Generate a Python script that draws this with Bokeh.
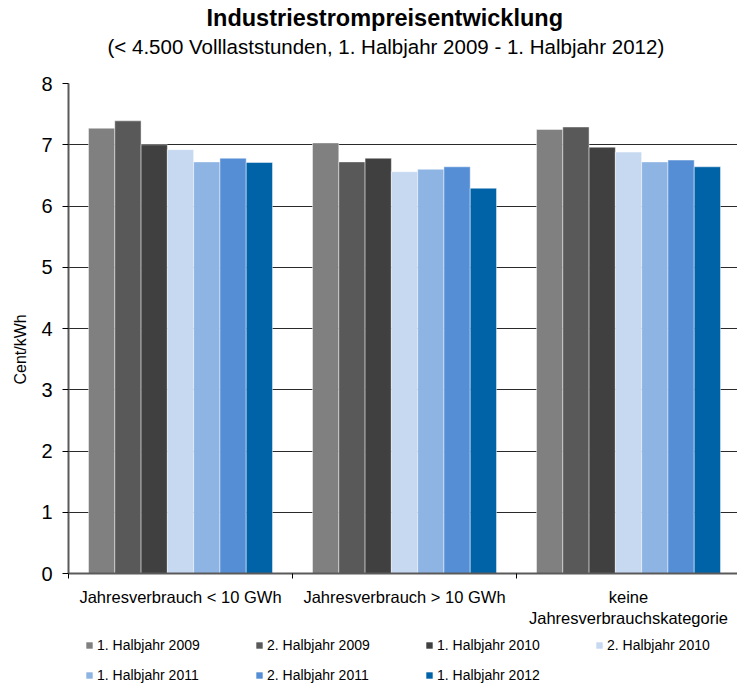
from bokeh.plotting import figure
from bokeh.layouts import column
from bokeh.models import Range1d, FixedTicker, Legend, LegendItem, Title
from bokeh.embed import file_html
from bokeh.resources import INLINE

# ---------------- data ----------------
categories = ["Jahresverbrauch < 10 GWh",
              "Jahresverbrauch > 10 GWh",
              "keine\nJahresverbrauchskategorie"]
series_names = ["1. Halbjahr 2009", "2. Halbjahr 2009", "1. Halbjahr 2010",
                "2. Halbjahr 2010", "1. Halbjahr 2011", "2. Halbjahr 2011",
                "1. Halbjahr 2012"]
h1_2009 = [7.27, 7.03, 7.25]
h2_2009 = [7.39, 6.72, 7.29]
h1_2010 = [7.00, 6.78, 6.96]
h2_2010 = [6.92, 6.56, 6.88]
h1_2011 = [6.72, 6.60, 6.72]
h2_2011 = [6.78, 6.64, 6.75]
h1_2012 = [6.71, 6.29, 6.64]
series_values = [h1_2009, h2_2009, h1_2010, h2_2010, h1_2011, h2_2011, h1_2012]
colors = ["#808080", "#595959", "#404040", "#C6D9F1", "#8EB4E3", "#558ED5", "#0063A8"]
y_ticks = [0, 1, 2, 3, 4, 5, 6, 7, 8]
title_text = "Industriestrompreisentwicklung"
subtitle_text = "(< 4.500 Volllaststunden,  1. Halbjahr 2009 - 1. Halbjahr 2012)"
y_label = "Cent/kWh"

# ---------------- layout ----------------
W = 737
H_MAIN, H_LEG = 630, 56
BL, BT, BB = 68, 83, 52
frame_w = W - BL
cat_px = 224.0
x_end = frame_w / cat_px
group_frac = 184.0 / 224.0
bar_w = group_frac / len(series_names)

p = figure(width=W, height=H_MAIN, output_backend="svg", toolbar_location=None,
           x_range=Range1d(0, x_end), y_range=Range1d(0, 8),
           min_border_left=BL, min_border_top=BT, min_border_bottom=BB,
           min_border_right=0)
p.outline_line_color = None
p.background_fill_color = "white"
p.border_fill_color = "white"

renderers = []
n = len(series_names)
for i, (name, vals, col) in enumerate(zip(series_names, series_values, colors)):
    xs = [c + 0.5 + (i - (n - 1) / 2) * bar_w for c in range(len(categories))]
    r = p.vbar(x=xs, top=vals, bottom=0, width=bar_w, fill_color=col,
               line_color="white", line_alpha=0.45, line_width=1)
    renderers.append(r)

# grid
p.xgrid.visible = False
p.ygrid.ticker = FixedTicker(ticks=y_ticks[1:-1])
p.ygrid.grid_line_color = "#2a2a2a"
p.ygrid.grid_line_width = 1
p.ygrid.level = "underlay"

# y axis
p.yaxis.ticker = FixedTicker(ticks=y_ticks)
p.yaxis.major_tick_out = 6
p.yaxis.major_tick_in = 0
p.yaxis.minor_tick_out = 0
p.yaxis.minor_tick_in = 0
p.yaxis.major_tick_line_color = "black"
p.yaxis.axis_line_color = "#5a5a5a"
p.yaxis.axis_line_width = 2
p.yaxis.major_label_text_font = "Liberation Sans"
p.yaxis.major_label_text_font_size = "20px"
p.yaxis.major_label_text_color = "black"
p.yaxis.major_label_standoff = 10

# x axis
p.xaxis.ticker = FixedTicker(ticks=[c + 0.5 for c in range(len(categories))],
                             minor_ticks=list(range(len(categories) + 1)))
p.xaxis.major_label_overrides = {c + 0.5: lab for c, lab in enumerate(categories)}
p.xaxis.major_tick_out = 0
p.xaxis.major_tick_in = 0
p.xaxis.minor_tick_out = 5
p.xaxis.minor_tick_in = 0
p.xaxis.minor_tick_line_color = "black"
p.xaxis.axis_line_color = "#5a5a5a"
p.xaxis.axis_line_width = 2
p.xaxis.major_label_text_font = "Liberation Sans"
p.xaxis.major_label_text_font_size = "16.5px"
p.xaxis.major_label_text_color = "black"
p.xaxis.major_label_standoff = 9

# titles: spacer first (closest to plot), then subtitle, then title
p.add_layout(Title(text=" ", text_font_size="1px", standoff=22), "above")
p.add_layout(Title(text=subtitle_text, align="left", offset=107 - BL,
                   text_font="Liberation Sans", text_font_size="20.5px",
                   text_font_style="normal", text_color="black", standoff=2), "above")
p.add_layout(Title(text=title_text, align="left", offset=206 - BL,
                   text_font="Liberation Sans", text_font_size="23.5px",
                   text_font_style="bold", text_color="black", standoff=2), "above")

# y axis label as a left-side title
p.add_layout(Title(text=y_label, align="left", offset=578 - 389,
                   text_font="Liberation Sans", text_font_size="16px",
                   text_font_style="normal", text_color="black", standoff=19), "left")

# legend in its own strip below the chart (frame aligned with the chart frame)
leg = figure(width=W, height=H_LEG, output_backend="svg", toolbar_location=None,
             x_range=Range1d(0, 1), y_range=Range1d(0, 1),
             x_axis_location=None, y_axis_location=None, min_border=0)
leg.outline_line_color = None
leg.grid.visible = False
leg_renderers = [leg.vbar(x=[0], top=[0], bottom=[0], width=0, fill_color=col,
                          line_color=None)
                 for col in colors]
legend = Legend(items=[LegendItem(label=nm, renderers=[r])
                       for nm, r in zip(series_names, leg_renderers)],
                ncols=4, location=(17, -4), orientation="horizontal",
                label_width=158, label_height=30, glyph_width=8, glyph_height=8,
                spacing=0, padding=0, margin=0, label_standoff=4,
                border_line_color=None, background_fill_alpha=0,
                label_text_font="Liberation Sans", label_text_font_size="14px",
                label_text_color="black")
leg.add_layout(legend, "center")

open("out.html", "w").write(file_html(column(p, leg, spacing=0), INLINE))
